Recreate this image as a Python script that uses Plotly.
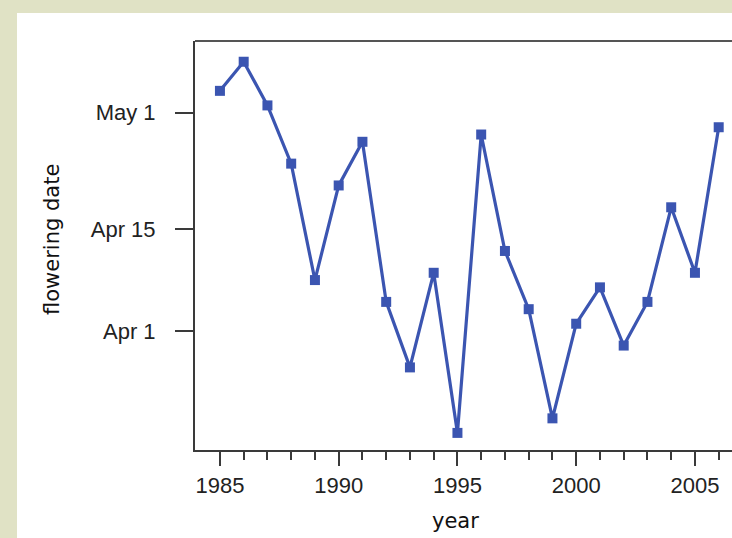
import plotly.graph_objects as go

# Flowering date by year (month-day)
years = list(range(1985, 2007))
flowering = [
    "05-04", "05-08", "05-02", "04-24", "04-08", "04-21", "04-27", "04-05",
    "03-27", "04-09", "03-18", "04-28", "04-12", "04-04", "03-20", "04-02",
    "04-07", "03-30", "04-05", "04-18", "04-09", "04-29",
]
ref_year = "2001"  # dates plotted on a single non-leap calendar year
y_dates = [f"{ref_year}-{md}" for md in flowering]

y_tick_vals = [f"{ref_year}-04-01", f"{ref_year}-04-15", f"{ref_year}-05-01"]
y_tick_text = ["Apr 1", "Apr 15", "May 1"]
x_tick_vals = [1985, 1990, 1995, 2000, 2005]

BLUE = "#3b55b1"
AXIS = "#3a3a3a"
TEXT = "#222222"
TICK_FONT = dict(family="Liberation Sans, Arial, sans-serif", size=22, color=TEXT)
TITLE_FONT = dict(family="DejaVu Sans, sans-serif", size=21, color="#111111")

W, H = 732, 538
L, R, T, B = 195, 0, 41, 88
pw, ph = W - L - R, H - T - B


def px_x(x):
    return (x - L) / pw


def px_y(y):
    return (H - B - y) / ph


fig = go.Figure(
    go.Scatter(
        x=years,
        y=y_dates,
        mode="lines+markers",
        line=dict(color=BLUE, width=3.2),
        marker=dict(symbol="square", size=10, color=BLUE),
        cliponaxis=False,
        showlegend=False,
    )
)

# white card over the beige page
fig.add_shape(
    type="rect", xref="paper", yref="paper", layer="below",
    x0=px_x(17), x1=px_x(W + 5), y0=px_y(H + 5), y1=px_y(13),
    fillcolor="white", line=dict(width=0),
)
# top frame line of the plot box
fig.add_shape(
    type="line", xref="paper", yref="paper",
    x0=0, x1=1.01, y0=1, y1=1,
    line=dict(color="#555555", width=2),
)

fig.add_annotation(
    text="year", xref="paper", yref="paper", x=px_x(455), y=px_y(521),
    showarrow=False, font=TITLE_FONT, xanchor="center", yanchor="middle",
)
fig.add_annotation(
    text="flowering date", xref="paper", yref="paper", x=px_x(52), y=px_y(240),
    showarrow=False, font=TITLE_FONT, textangle=-90,
    xanchor="center", yanchor="middle",
)

fig.update_xaxes(
    range=[1983.95, 2006.56],
    tickvals=x_tick_vals,
    ticks="outside", ticklen=14, tickwidth=2, tickcolor=AXIS,
    minor=dict(tickvals=years, ticks="outside", ticklen=8, tickwidth=2,
               tickcolor=AXIS, showgrid=False),
    showline=True, linecolor=AXIS, linewidth=2,
    showgrid=False, zeroline=False,
    tickfont=TICK_FONT, ticklabelstandoff=1,
)
fig.update_yaxes(
    type="date",
    range=[f"{ref_year}-03-15 15:36", f"{ref_year}-05-10 20:24"],
    tickvals=y_tick_vals, ticktext=y_tick_text,
    ticks="outside", ticklen=18, tickwidth=2, tickcolor=AXIS,
    showline=True, linecolor=AXIS, linewidth=2,
    showgrid=False, zeroline=False,
    tickfont=TICK_FONT, ticklabelstandoff=15,
)

fig.update_layout(
    width=W, height=H,
    margin=dict(l=L, r=R, t=T, b=B),
    paper_bgcolor="#e0e2c5",
    plot_bgcolor="white",
)

fig.write_html("out.html")
